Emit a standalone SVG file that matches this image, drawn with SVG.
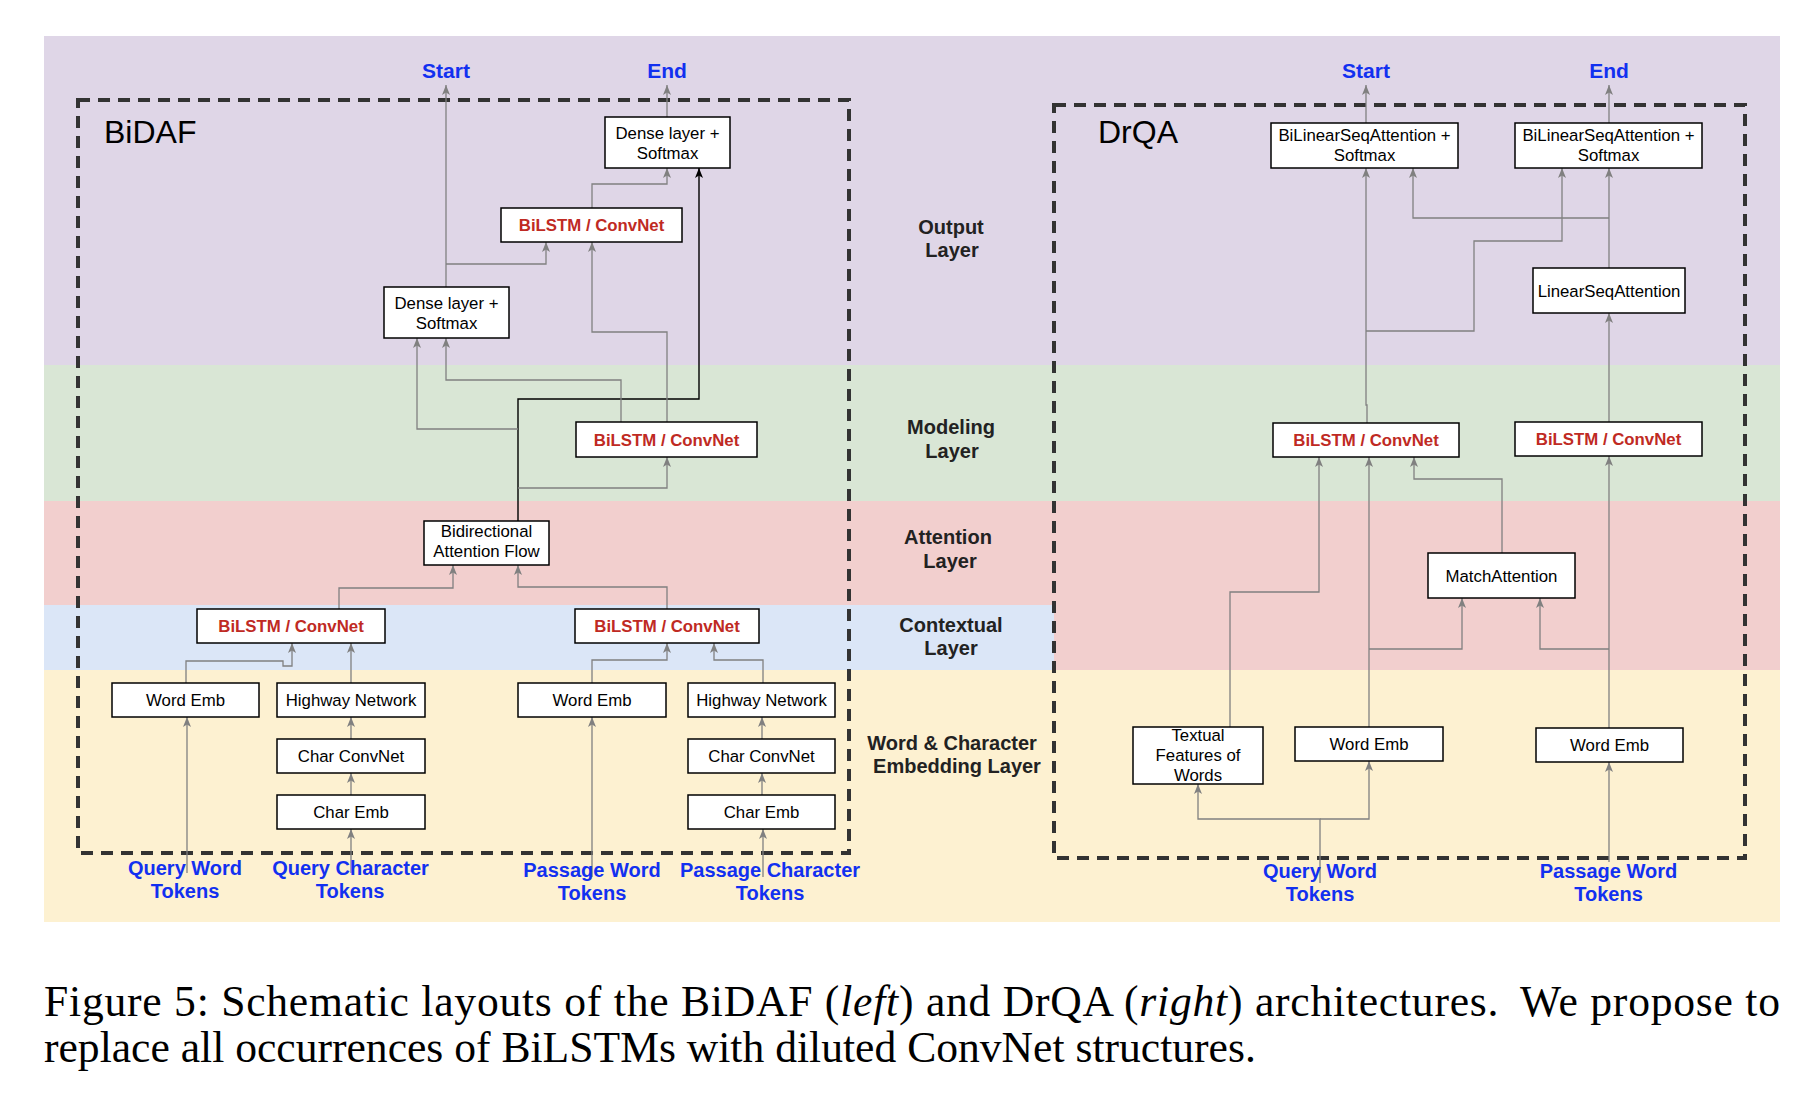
<svg xmlns="http://www.w3.org/2000/svg" width="1802" height="1104" viewBox="0 0 1802 1104">
<defs>
<style>
.box{fill:#fff;stroke:#000;stroke-width:1.5}
.t{font-family:"Liberation Sans",Arial,sans-serif;font-size:16.8px;fill:#000;text-anchor:middle}
.r{font-family:"Liberation Sans",Arial,sans-serif;font-size:16.8px;font-weight:bold;fill:#BF2A23;text-anchor:middle}
.lay{font-family:"Liberation Sans",Arial,sans-serif;font-size:20px;font-weight:bold;fill:#222;text-anchor:middle}
.io{font-family:"Liberation Sans",Arial,sans-serif;font-size:20px;font-weight:bold;fill:#1230F0;text-anchor:middle}
.se{font-family:"Liberation Sans",Arial,sans-serif;font-size:21px;font-weight:bold;fill:#1230F0;text-anchor:middle}
.ttl{font-family:"Liberation Sans",Arial,sans-serif;font-size:32px;fill:#000}
.dash{fill:none;stroke:#333;stroke-width:4;stroke-dasharray:12 8}
.c{fill:none;stroke:#808080;stroke-width:1.3;marker-end:url(#ag)}
.cb{fill:none;stroke:#000;stroke-width:1.4;marker-end:url(#ab)}
.cap{font-family:"Liberation Serif","Times New Roman",serif;font-size:43.6px;fill:#000}
</style>
<marker id="ag" viewBox="0 0 10 8" refX="10" refY="4" markerWidth="10" markerHeight="8" orient="auto" markerUnits="userSpaceOnUse"><path d="M0,0 L10,4 L0,8 L2.5,4 z" fill="#808080"/></marker>
<marker id="ab" viewBox="0 0 10 8" refX="10" refY="4" markerWidth="10" markerHeight="8" orient="auto" markerUnits="userSpaceOnUse"><path d="M0,0 L10,4 L0,8 L2.5,4 z" fill="#000"/></marker>
</defs>

<g id="background">
<rect x="44" y="36" width="1736" height="329" fill="#DFD6E7"/>
<rect x="44" y="365" width="1736" height="136" fill="#D9E6D5"/>
<rect x="44" y="501" width="1736" height="104" fill="#F2CFCE"/>
<rect x="1054" y="605" width="726" height="65" fill="#F2CFCE"/>
<rect x="44" y="605" width="1010" height="65" fill="#DBE6F7"/>
<rect x="44" y="670" width="1736" height="252" fill="#FDF1D1"/>
</g>

<g id="layer-labels">
<text class="lay" x="951" y="234">Output</text><text class="lay" x="952" y="257">Layer</text>
<text class="lay" x="951" y="434">Modeling</text><text class="lay" x="952" y="458">Layer</text>
<text class="lay" x="948" y="544">Attention</text><text class="lay" x="950" y="568">Layer</text>
<text class="lay" x="951" y="632">Contextual</text><text class="lay" x="951" y="655">Layer</text>
<text class="lay" x="952" y="750">Word &amp; Character</text><text class="lay" x="957" y="773">Embedding Layer</text>
</g>

<g id="bidaf-frame">
<rect class="dash" x="78" y="100" width="771" height="753"/>
<text class="ttl" x="104" y="143">BiDAF</text>
</g>
<g id="drqa-frame">
<rect class="dash" x="1054" y="105" width="691" height="753"/>
<text class="ttl" x="1098" y="143">DrQA</text>
</g>

<g id="connectors">
<path class="c" d="M446,287 V85"/>
<path class="c" d="M667,117 V85"/>
<path class="c" d="M592,208 V184 H667 V168"/>
<path class="cb" d="M518,521 V399 H699 V168"/>
<path class="c" d="M446,264 H546 V242"/>
<path class="c" d="M667,422 V332 H592 V242"/>
<path class="c" d="M621,422 V380 H446 V338"/>
<path class="c" d="M518,429 H417 V338"/>
<path class="c" d="M518,488 H667 V457"/>
<path class="c" d="M339,609 V588 H453 V565"/>
<path class="c" d="M667,609 V587 H518 V565"/>
<path class="c" d="M186,683 V661 H283 V666 H292 V643"/>
<path class="c" d="M351,683 V643"/>
<path class="c" d="M592,683 V660 H667 V643"/>
<path class="c" d="M763,683 V660 H714 V643"/>
<path class="c" d="M351,739 V717"/>
<path class="c" d="M351,795 V773"/>
<path class="c" d="M762,739 V717"/>
<path class="c" d="M762,795 V773"/>
<path class="c" d="M187,873 V717"/>
<path class="c" d="M351,873 V829"/>
<path class="c" d="M592,877 V717"/>
<path class="c" d="M763,877 V829"/>
<path class="c" d="M1366,123 V85"/>
<path class="c" d="M1609,123 V85"/>
<path class="c" d="M1367,423 V405 H1366 V168"/>
<path class="c" d="M1366,331 H1474 V241 H1562 V168"/>
<path class="c" d="M1609,422 V313"/>
<path class="c" d="M1609,268 V168"/>
<path class="c" d="M1609,218 H1413 V168"/>
<path class="c" d="M1230,727 V592 H1319 V457"/>
<path class="c" d="M1369,727 V457"/>
<path class="c" d="M1369,649 H1462 V598"/>
<path class="c" d="M1502,553 V479 H1414 V457"/>
<path class="c" d="M1609,728 V456"/>
<path class="c" d="M1609,649 H1540 V598"/>
<path class="c" d="M1320,883 V819 H1198 V784"/>
<path class="c" d="M1320,819 H1369 V761"/>
<path class="c" d="M1609,862 V762"/>
</g>

<g id="bidaf-dense-end"><rect class="box" x="605" y="117" width="125" height="51"/><text class="t" x="667.5" y="139">Dense layer +</text><text class="t" x="667.5" y="159">Softmax</text></g>
<g id="bidaf-bilstm-out"><rect class="box" x="501" y="208" width="181" height="34"/><text class="r" x="591.5" y="231">BiLSTM / ConvNet</text></g>
<g id="bidaf-dense-start"><rect class="box" x="384" y="287" width="125" height="51"/><text class="t" x="446.5" y="309">Dense layer +</text><text class="t" x="446.5" y="329">Softmax</text></g>
<g id="bidaf-bilstm-model"><rect class="box" x="576" y="422" width="181" height="35"/><text class="r" x="666.5" y="445.5">BiLSTM / ConvNet</text></g>
<g id="bidaf-attention"><rect class="box" x="424" y="521" width="125" height="44"/><text class="t" x="486.5" y="537">Bidirectional</text><text class="t" x="486.5" y="557">Attention Flow</text></g>
<g id="bidaf-ctx-query"><rect class="box" x="197" y="609" width="188" height="34"/><text class="r" x="291" y="632">BiLSTM / ConvNet</text></g>
<g id="bidaf-ctx-passage"><rect class="box" x="575" y="609" width="184" height="34"/><text class="r" x="667" y="632">BiLSTM / ConvNet</text></g>
<g id="bidaf-qword-emb"><rect class="box" x="112" y="683" width="147" height="34"/><text class="t" x="185.5" y="706">Word Emb</text></g>
<g id="bidaf-qhighway"><rect class="box" x="277" y="683" width="148" height="34"/><text class="t" x="351" y="706">Highway Network</text></g>
<g id="bidaf-qcharconv"><rect class="box" x="277" y="739" width="148" height="34"/><text class="t" x="351" y="762">Char ConvNet</text></g>
<g id="bidaf-qcharemb"><rect class="box" x="277" y="795" width="148" height="34"/><text class="t" x="351" y="818">Char Emb</text></g>
<g id="bidaf-pword-emb"><rect class="box" x="518" y="683" width="148" height="34"/><text class="t" x="592" y="706">Word Emb</text></g>
<g id="bidaf-phighway"><rect class="box" x="688" y="683" width="147" height="34"/><text class="t" x="761.5" y="706">Highway Network</text></g>
<g id="bidaf-pcharconv"><rect class="box" x="688" y="739" width="147" height="34"/><text class="t" x="761.5" y="762">Char ConvNet</text></g>
<g id="bidaf-pcharemb"><rect class="box" x="688" y="795" width="147" height="34"/><text class="t" x="761.5" y="818">Char Emb</text></g>

<g id="bidaf-io">
<text class="se" x="446" y="78">Start</text>
<text class="se" x="667" y="78">End</text>
<text class="io" x="185" y="875">Query Word</text><text class="io" x="185" y="898">Tokens</text>
<text class="io" x="350.5" y="875">Query Character</text><text class="io" x="350" y="898">Tokens</text>
<text class="io" x="592" y="877">Passage Word</text><text class="io" x="592" y="900">Tokens</text>
<text class="io" x="770" y="877">Passage Character</text><text class="io" x="770" y="900">Tokens</text>
</g>

<g id="drqa-bilinear-start"><rect class="box" x="1271" y="123" width="187" height="45"/><text class="t" x="1364.5" y="141">BiLinearSeqAttention +</text><text class="t" x="1364.5" y="161">Softmax</text></g>
<g id="drqa-bilinear-end"><rect class="box" x="1515" y="123" width="187" height="45"/><text class="t" x="1608.5" y="141">BiLinearSeqAttention +</text><text class="t" x="1608.5" y="161">Softmax</text></g>
<g id="drqa-linearseq"><rect class="box" x="1533" y="268" width="152" height="45"/><text class="t" x="1609" y="296.5">LinearSeqAttention</text></g>
<g id="drqa-bilstm-passage"><rect class="box" x="1273" y="423" width="186" height="34"/><text class="r" x="1366" y="446">BiLSTM / ConvNet</text></g>
<g id="drqa-bilstm-query"><rect class="box" x="1515" y="422" width="187" height="34"/><text class="r" x="1608.5" y="445">BiLSTM / ConvNet</text></g>
<g id="drqa-match"><rect class="box" x="1428" y="553" width="147" height="45"/><text class="t" x="1501.5" y="581.5">MatchAttention</text></g>
<g id="drqa-textual"><rect class="box" x="1133" y="727" width="130" height="57"/><text class="t" x="1198" y="741">Textual</text><text class="t" x="1198" y="761">Features of</text><text class="t" x="1198" y="781">Words</text></g>
<g id="drqa-qword-emb"><rect class="box" x="1295" y="727" width="148" height="34"/><text class="t" x="1369" y="750">Word Emb</text></g>
<g id="drqa-pword-emb"><rect class="box" x="1536" y="728" width="147" height="34"/><text class="t" x="1609.5" y="751">Word Emb</text></g>

<g id="drqa-io">
<text class="se" x="1366" y="78">Start</text>
<text class="se" x="1609" y="78">End</text>
<text class="io" x="1320" y="878">Query Word</text><text class="io" x="1320" y="901">Tokens</text>
<text class="io" x="1608.5" y="878">Passage Word</text><text class="io" x="1608.5" y="901">Tokens</text>
</g>

<g id="caption">
<text class="cap" x="44" y="1016" textLength="1736" lengthAdjust="spacing">Figure 5: Schematic layouts of the BiDAF (<tspan font-style="italic">left</tspan>) and DrQA (<tspan font-style="italic">right</tspan>) architectures. <tspan dx="10">We propose to</tspan></text>
<text class="cap" x="44" y="1062">replace all occurrences of BiLSTMs with diluted ConvNet structures.</text>
</g>
</svg>
